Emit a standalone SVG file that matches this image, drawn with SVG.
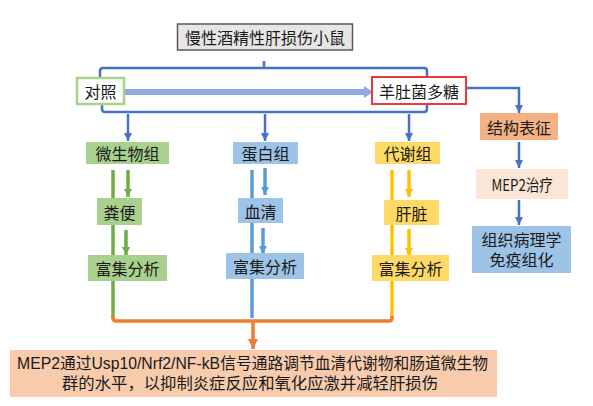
<svg xmlns="http://www.w3.org/2000/svg" width="593" height="406" viewBox="0 0 593 406">
<style>
text{font-family:"Noto Sans CJK SC","Noto Sans",sans-serif;font-size:16px;fill:#1a1a1a;text-anchor:middle;dominant-baseline:central}
text.ml{font-family:"Liberation Sans","Noto Sans CJK SC",sans-serif}
.bl{fill:none;stroke:#4472c4;stroke-width:2.5}
.g{fill:none;stroke:#70ad47;stroke-width:3.5}
.b{fill:none;stroke:#5b9bd5;stroke-width:3.5}
.y{fill:none;stroke:#ffc000;stroke-width:3.5}
.o{fill:none;stroke:#ed7d31;stroke-width:3.5}
</style>
<defs>
<marker id="aB" markerUnits="userSpaceOnUse" markerWidth="10" markerHeight="8" refX="8" refY="4" orient="auto"><path d="M0,0L8,4L0,8Z" fill="#4472c4"/></marker>
<marker id="aG" markerUnits="userSpaceOnUse" markerWidth="10" markerHeight="8" refX="8" refY="4" orient="auto"><path d="M0,0L8,4L0,8Z" fill="#70ad47"/></marker>
<marker id="aL" markerUnits="userSpaceOnUse" markerWidth="10" markerHeight="8" refX="8" refY="4" orient="auto"><path d="M0,0L8,4L0,8Z" fill="#5b9bd5"/></marker>
<marker id="aY" markerUnits="userSpaceOnUse" markerWidth="10" markerHeight="8" refX="8" refY="4" orient="auto"><path d="M0,0L8,4L0,8Z" fill="#ffc000"/></marker>
<marker id="aO" markerUnits="userSpaceOnUse" markerWidth="12" markerHeight="10" refX="10" refY="5" orient="auto"><path d="M0,0L10,5L0,10Z" fill="#ed7d31"/></marker>
</defs>
<rect width="593" height="406" fill="#ffffff"/>
<g id="connectors">
<path class="bl" d="M264,61V68M100,78V71Q100,68 103,68H424Q427,68 427,71V78"/>
<path class="bl" d="M102,104V109Q102,112 105,112H424Q427,112 427,109V104"/>
<path d="M124,92H364" stroke="#8faadc" stroke-width="6" fill="none"/>
<path d="M364,86L373,92L364,98Z" fill="#8faadc"/>
<path class="bl" d="M128,114V141" marker-end="url(#aB)"/>
<path class="bl" d="M265,114V141" marker-end="url(#aB)"/>
<path class="bl" d="M409,114V141" marker-end="url(#aB)"/>
<path class="bl" d="M466,88H519V113" marker-end="url(#aB)"/>
<path class="bl" d="M519,142V168" marker-end="url(#aB)"/>
<path class="bl" d="M519,200V225" marker-end="url(#aB)"/>
<path class="g" d="M113,170V318"/>
<path class="b" d="M252,170V318"/>
<path class="y" d="M392,170V318"/>
<path class="o" d="M113,316V318Q113,321 116,321H389Q392,321 392,318V316"/>
<path class="o" d="M253,321V349" marker-end="url(#aO)"/>
<path class="g" stroke-width="3" d="M128,170V197" marker-end="url(#aG)"/>
<path class="g" stroke-width="3" d="M126,230V255" marker-end="url(#aG)"/>
<path class="b" stroke-width="3" d="M265,168V195" marker-end="url(#aL)"/>
<path class="b" stroke-width="3" d="M263,228V254" marker-end="url(#aL)"/>
<path class="y" stroke-width="3" d="M409,170V197" marker-end="url(#aY)"/>
<path class="y" stroke-width="3" d="M409,229V256" marker-end="url(#aY)"/>
</g>
<g id="mice"><rect x="177.5" y="24" width="175" height="26" fill="#e7e6e6" stroke="#595959" stroke-width="1.5"/><text x="265" y="37">慢性酒精性肝损伤小鼠</text></g>
<g id="control"><rect x="77" y="78" width="47" height="26" fill="#ffffff" stroke="#a9d18e" stroke-width="2.5"/><text x="100.5" y="91">对照</text></g>
<g id="mep"><rect x="372" y="77" width="94" height="27" fill="#ffffff" stroke="#e83a3a" stroke-width="2"/><text x="419" y="91">羊肚菌多糖</text></g>
<g id="micro"><rect x="86" y="142" width="83" height="22" fill="#a9d18e"/><text x="127.5" y="153">微生物组</text></g>
<g id="feces"><rect x="97" y="198" width="45" height="27" fill="#a9d18e"/><text x="119.5" y="211.5">粪便</text></g>
<g id="enrich1"><rect x="88" y="255" width="79" height="26" fill="#a9d18e"/><text x="127.5" y="268">富集分析</text></g>
<g id="protein"><rect x="233" y="142" width="65" height="22" fill="#9dc3e6"/><text x="265.5" y="153">蛋白组</text></g>
<g id="serum"><rect x="238" y="198" width="45" height="25" fill="#9dc3e6"/><text x="260.5" y="210.5">血清</text></g>
<g id="enrich2"><rect x="226" y="253" width="78" height="26" fill="#9dc3e6"/><text x="265" y="266">富集分析</text></g>
<g id="metab"><rect x="375" y="142" width="65" height="22" fill="#ffd966"/><text x="407.5" y="153">代谢组</text></g>
<g id="liver"><rect x="384" y="200" width="55" height="25" fill="#ffd966"/><text x="411.5" y="212.5">肝脏</text></g>
<g id="enrich3"><rect x="372" y="255" width="77" height="26" fill="#ffd966"/><text x="410.5" y="268">富集分析</text></g>
<g id="struct"><rect x="480" y="113" width="78" height="27" fill="#f4b183"/><text x="519" y="126.5">结构表征</text></g>
<g id="treat"><rect x="476" y="169" width="92" height="30" fill="#fbe5d6"/><text x="522" y="184" font-size="15" textLength="61" lengthAdjust="spacingAndGlyphs">MEP2治疗</text></g>
<g id="histo"><rect x="472" y="226" width="99" height="47" fill="#9dc3e6"/><text class="ml" x="521.5" y="240">组织病理学</text><text class="ml" x="521.5" y="260">免疫组化</text></g>
<g id="conclusion"><rect x="10" y="350" width="487" height="47" fill="#f8cbad"/><text class="ml" x="252.5" y="363" textLength="471" lengthAdjust="spacingAndGlyphs">MEP2通过Usp10/Nrf2/NF-kB信号通路调节血清代谢物和肠道微生物</text><text class="ml" x="250" y="383" textLength="376" lengthAdjust="spacingAndGlyphs">群的水平，以抑制炎症反应和氧化应激并减轻肝损伤</text></g>
</svg>
